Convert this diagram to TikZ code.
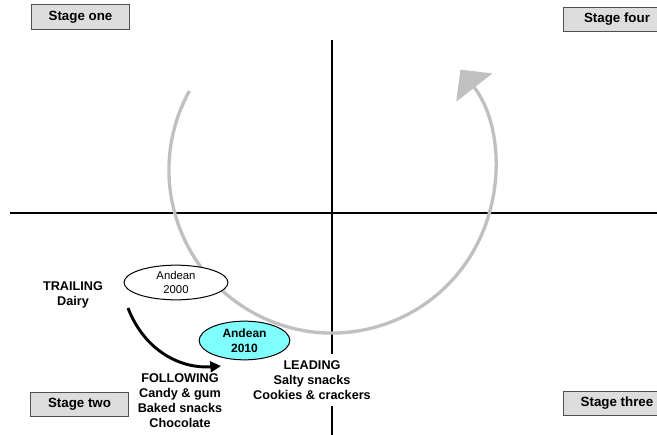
\documentclass[tikz,border=0pt]{standalone}
\usepackage{fontspec}
\setmainfont{Liberation Sans}
\usetikzlibrary{arrows.meta,shapes.geometric}
\definecolor{stagefill}{RGB}{221,221,221}
\definecolor{stageedge}{RGB}{80,80,80}
\definecolor{cyclegray}{RGB}{192,192,192}
\definecolor{leadcyan}{RGB}{128,255,255}
\begin{document}
\begin{tikzpicture}[x=0.75pt,y=0.75pt,
  stagebox/.style={draw=stageedge,line width=0.75pt,fill=stagefill,
    minimum width=73pt,minimum height=18.5pt,inner sep=0pt,
    font=\bfseries\fontsize{10}{12}\selectfont},
  stagewide/.style={stagebox,minimum width=81pt},
  axisline/.style={line width=1.5pt,black},
  cyclearc/.style={draw=cyclegray,line width=2.5pt,
    -{Triangle[length=17pt,width=34pt]}},
  catlabel/.style={align=center,inner sep=0pt,
    font=\bfseries\fontsize{9.5}{11.25}\selectfont},
  yearoval/.style={ellipse,draw=black,line width=0.75pt,inner sep=0pt,align=center},
  moveline/.style={line width=2.2pt,-{Triangle[length=8pt,width=8pt]}}
]
\useasboundingbox (0,0) rectangle (657,-435);

% quadrant axes
\coordinate (hleft) at (10,-213);
\coordinate (hright) at (657,-213);
\coordinate (vtop) at (332,-40);
\coordinate (vbottom) at (332,-435);
\draw[axisline] (hleft) -- (hright);
\draw[axisline] (vtop) -- (vbottom);

% the cycle through the four stages
\coordinate (cyclestart) at (189.4,-91);
\draw[cyclearc] (cyclestart) arc[start angle=151,end angle=398,radius=122.25pt];

% stage labels in the corners
\node[stagebox] (s1) at (80.5,-17) {Stage one};
\node[stagebox] (s2) at (79.5,-404.5) {Stage two};
\node[stagewide] (s4) at (617,-19.5) {Stage four};
\node[stagewide] (s3) at (617,-403.5) {Stage three};

% category groups
\node[catlabel] (trail) at (73,-295) {TRAILING\\Dairy};
\node[catlabel] (follow) at (180,-401) {FOLLOWING\\Candy \& gum\\Baked snacks\\Chocolate};
\node[catlabel,fill=white,inner ysep=5pt,inner xsep=2pt] (lead) at (312,-380)
  {LEADING\\Salty snacks\\Cookies \& crackers};

% positions in 2000 and 2010
\node[yearoval,fill=white,minimum width=78pt,minimum height=26pt,
  font=\fontsize{8.5}{10.5}\selectfont] (a2000) at (176,-282.5) {Andean\\2000};
\node[yearoval,fill=leadcyan,minimum width=68pt,minimum height=29pt,
  font=\bfseries\fontsize{9}{11.25}\selectfont] (a2010) at (244.5,-340.5) {Andean\\2010};

% move from trailing to following
\coordinate (movestart) at (128,-308);
\coordinate (moveend) at (221,-366);
\draw[moveline] (movestart) .. controls (145,-352) and (182,-369) .. (moveend);
\end{tikzpicture}
\end{document}
